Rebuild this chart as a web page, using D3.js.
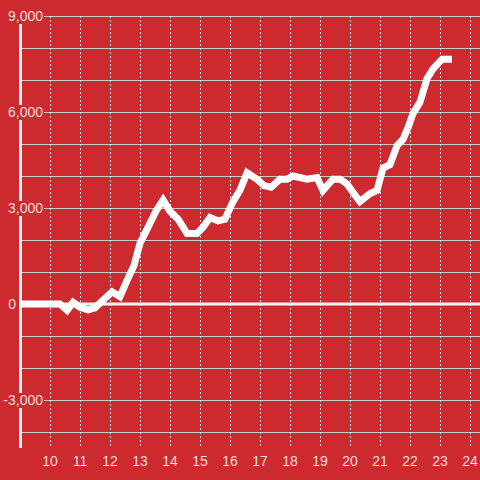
<!DOCTYPE html>
<html>
<head>
<meta charset="utf-8">
<script src="https://cdn.jsdelivr.net/npm/d3@7"></script>
<style>
html,body{margin:0;padding:0;background:#cd2a30;}
svg{display:block;}
text{font-family:"Liberation Sans",Arial,sans-serif;}
</style>
</head>
<body>
<svg id="chart" width="480" height="480"></svg>
<script>
const hours = [9.0,10.33,10.57,10.77,11.0,11.27,11.5,11.8,12.07,12.33,12.6,12.8,13.0,13.27,13.53,13.77,14.0,14.27,14.57,14.9,15.1,15.33,15.6,15.83,16.1,16.33,16.57,16.9,17.13,17.37,17.67,17.9,18.1,18.57,18.9,19.1,19.43,19.67,19.9,20.17,20.33,20.67,20.9,21.1,21.33,21.57,21.77,21.93,22.1,22.33,22.57,22.77,23.07,23.4];
const values = [0,0,-200,50,-100,-180,-120,150,380,230,800,1200,1900,2400,2900,3250,2900,2650,2200,2200,2400,2700,2600,2650,3200,3550,4100,3900,3700,3650,3900,3900,4000,3900,3950,3550,3900,3900,3750,3400,3200,3450,3550,4250,4350,4950,5150,5500,5950,6300,7050,7350,7650,7650];
const xTicks = [10,11,12,13,14,15,16,17,18,19,20,21,22,23,24];
const yGrid = [-4000,-3000,-2000,-1000,1000,2000,3000,4000,5000,6000,7000,8000,9000];
const yLabels = [-3000,0,3000,6000,9000];

const W = 480, H = 480;
const bg = "#cd2a30";
const svg = d3.select("#chart");
svg.append("rect").attr("width",W).attr("height",H).attr("fill",bg);

const x = d3.scaleLinear().domain([9,24]).range([20,470]);
const y = d3.scaleLinear().domain([-4500,9000]).range([448,16]);
const fmt = v => d3.format(",")(v).replace("\u2212","-");
const labelRight = d => d === 0 ? 16 : 43;

// horizontal gridlines
svg.append("g").selectAll("line").data(yGrid).join("line")
  .attr("x1",20).attr("x2",W)
  .attr("y1",d=>Math.round(y(d))+0.5).attr("y2",d=>Math.round(y(d))+0.5)
  .attr("stroke","#cccccc").attr("stroke-width",1);

// vertical dashed lines
svg.append("g").selectAll("line").data(xTicks).join("line")
  .attr("x1",d=>Math.round(x(d))+0.5).attr("x2",d=>Math.round(x(d))+0.5)
  .attr("y1",16).attr("y2",448)
  .attr("stroke","#e6e6e6").attr("stroke-width",1).attr("stroke-dasharray","2,2");

// y axis line
svg.append("line").attr("x1",20.5).attr("x2",20.5).attr("y1",16).attr("y2",448)
  .attr("stroke","#f2f2f2").attr("stroke-width",3);

// zero line
svg.append("line").attr("x1",20).attr("x2",W).attr("y1",y(0)).attr("y2",y(0))
  .attr("stroke","#f2f2f2").attr("stroke-width",3);

// data line
const pts = hours.map((h,i)=>[h,values[i]]);
svg.append("path").datum(pts)
  .attr("d",d3.line().x(d=>x(d[0])).y(d=>y(d[1])))
  .attr("fill","none").attr("stroke","#ffffff").attr("stroke-width",7)
  .attr("stroke-linejoin","miter").attr("stroke-linecap","butt");

// y labels with background
const yl = svg.append("g").selectAll("g").data(yLabels).join("g")
  .attr("transform",d=>`translate(0,${y(d)})`);
yl.append("rect").attr("x",d=>labelRight(d)-fmt(d).length*7.5-2).attr("y",-7)
  .attr("width",d=>fmt(d).length*7.5+3).attr("height",15).attr("fill",bg);
yl.append("text").attr("x",labelRight).attr("y",5).attr("text-anchor","end")
  .attr("font-size",14).attr("fill","rgba(255,255,255,0.85)").text(d=>fmt(d));

// x labels
svg.append("g").selectAll("text").data(xTicks).join("text")
  .attr("x",d=>x(d)).attr("y",466).attr("text-anchor","middle")
  .attr("font-size",14).attr("fill","rgba(255,255,255,0.85)").text(d=>d);
</script>
</body>
</html>
